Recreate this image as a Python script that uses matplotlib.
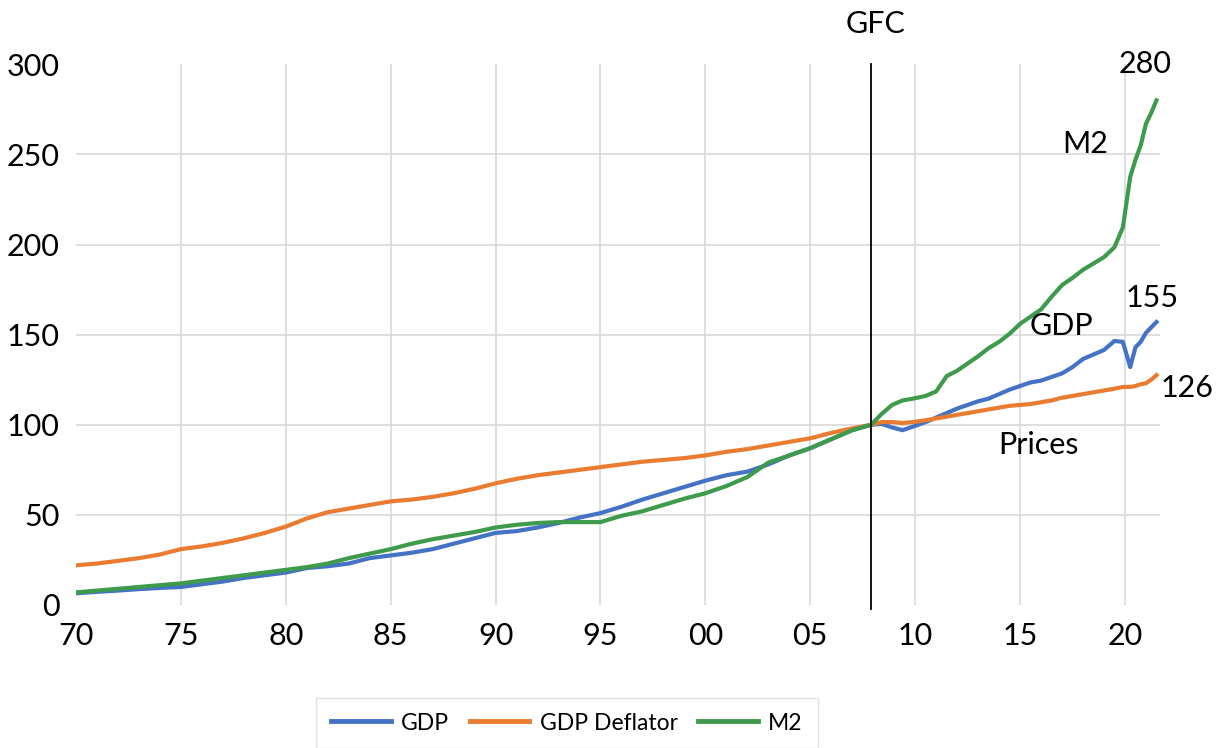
import matplotlib
matplotlib.use("Agg")
import matplotlib.pyplot as plt
import matplotlib.transforms as mtransforms

# ---- data ----
years = [1970, 1971, 1972, 1973, 1974, 1975, 1976, 1977, 1978, 1979,
         1980, 1981, 1982, 1983, 1984, 1985, 1986, 1987, 1988, 1989,
         1990, 1991, 1992, 1993, 1994, 1995, 1996, 1997, 1998, 1999,
         2000, 2001, 2002, 2003, 2004, 2005, 2006, 2007, 2007.9,
         2008.4, 2008.9, 2009.4, 2009.9, 2010.5, 2011.0, 2011.5, 2012.0,
         2012.5, 2013.0, 2013.5, 2014.0, 2014.5, 2015.0, 2015.5, 2016.0,
         2016.5, 2017.0, 2017.5, 2018.0, 2018.5, 2019.0, 2019.5, 2019.9,
         2020.25, 2020.5, 2020.75, 2021.0, 2021.25, 2021.5]

gdp = [6.5, 7.3, 8.0, 8.8, 9.5, 10.0, 11.5, 13.0, 15.0, 16.5,
       18.0, 20.5, 21.5, 23.0, 26.0, 27.5, 29.0, 31.0, 34.0, 37.0,
       40.0, 41.0, 43.0, 45.5, 48.5, 51.0, 54.5, 58.5, 62.0, 65.5,
       69.0, 72.0, 74.0, 78.0, 83.0, 87.0, 92.0, 97.0, 100.0,
       100.5, 98.5, 97.0, 99.0, 101.5, 104.0, 106.5, 109.0,
       111.0, 113.0, 114.5, 117.0, 119.5, 121.5, 123.5, 124.5,
       126.5, 128.5, 132.0, 136.5, 139.0, 141.5, 146.5, 146.0,
       132.0, 143.0, 146.0, 151.0, 154.0, 157.0]

deflator = [22.0, 23.0, 24.5, 26.0, 28.0, 31.0, 32.5, 34.5, 37.0, 40.0,
            43.5, 48.0, 51.5, 53.5, 55.5, 57.5, 58.5, 60.0, 62.0, 64.5,
            67.5, 70.0, 72.0, 73.5, 75.0, 76.5, 78.0, 79.5, 80.5, 81.5,
            83.0, 85.0, 86.5, 88.5, 90.5, 92.5, 95.5, 98.0, 100.0,
            101.5, 101.5, 101.0, 101.5, 102.5, 103.5, 104.5, 105.5,
            106.5, 107.5, 108.5, 109.5, 110.5, 111.0, 111.5, 112.5,
            113.5, 115.0, 116.0, 117.0, 118.0, 119.0, 120.0, 121.0,
            121.0, 121.5, 122.5, 123.0, 125.0, 127.5]

m2 = [7.0, 8.0, 9.0, 10.0, 11.0, 12.0, 13.5, 15.0, 16.5, 18.0,
      19.5, 21.0, 23.0, 26.0, 28.5, 31.0, 34.0, 36.5, 38.5, 40.5,
      43.0, 44.5, 45.5, 46.0, 46.0, 46.0, 49.5, 52.0, 55.5, 59.0,
      62.0, 66.0, 71.0, 79.0, 83.0, 87.0, 92.0, 97.0, 100.0,
      106.0, 111.0, 113.5, 114.5, 116.0, 118.5, 127.0, 130.0,
      134.0, 138.0, 142.5, 146.0, 150.5, 156.0, 160.0, 164.0,
      171.0, 177.5, 181.5, 186.0, 189.5, 193.0, 198.5, 209.5,
      237.5, 247.0, 255.0, 267.0, 273.0, 280.0]

series_names = ["GDP", "GDP Deflator", "M2"]
xtick_years = [1970, 1975, 1980, 1985, 1990, 1995, 2000, 2005, 2010, 2015, 2020]
xtick_labels = ["70", "75", "80", "85", "90", "95", "00", "05", "10", "15", "20"]
ytick_values = [0, 50, 100, 150, 200, 250, 300]
gfc_year = 2007.9

# ---- style ----
plt.rcParams['font.family'] = ['Lato', 'DejaVu Sans']
colors = ["#4472C4", "#E97C30", "#3E9B4C"]
grid_color = "#D9D9D9"

fig = plt.figure(figsize=(12.21, 7.48), dpi=100)
ax = fig.add_axes([76/1221, 1-605/748, (1160-76)/1221, (605-64.3)/748])

for vals, name, c in zip([gdp, deflator, m2], series_names, colors):
    ax.plot(years, vals, color=c, lw=3.0, label=name, solid_joinstyle='round', zorder=3)

ax.set_xlim(1970, 2021.67)
ax.set_ylim(0, 300)
ax.set_xticks(xtick_years)
ax.set_xticklabels(xtick_labels)
ax.set_yticks(ytick_values)
ax.tick_params(axis='both', length=0, labelsize=22, colors='black')
ax.tick_params(axis='x', pad=12)
ax.tick_params(axis='y', pad=12)
for s in ax.spines.values():
    s.set_visible(False)

ax.grid(True, color=grid_color, lw=1.2, zorder=0)
ax.set_axisbelow(True)
# hide gridlines at the plot edges (70 on x; 0 and 300 on y)
xgl = ax.get_xgridlines()
xgl[0].set_visible(False)
ygl = ax.get_ygridlines()
ygl[0].set_visible(False)
ygl[-1].set_visible(False)

# GFC line
ax.axvline(gfc_year, ymin=-0.008, ymax=1.0, color='black', lw=1.3, zorder=4, clip_on=False)
trans = mtransforms.blended_transform_factory(ax.transData, ax.transAxes)
ax.text(2008.1, 1.0745, "GFC", transform=trans, ha='center', va='center', fontsize=22)

# annotations
ax.text(2020.95, 300.4, "280", ha='center', va='center', fontsize=22, clip_on=False)
ax.text(2018.1, 256, "M2", ha='center', va='center', fontsize=22)
ax.text(2021.29, 170.2, "155", ha='center', va='center', fontsize=22, clip_on=False)
ax.text(2016.95, 154.6, "GDP", ha='center', va='center', fontsize=22)
ax.text(2022.95, 120.4, "126", ha='center', va='center', fontsize=22, clip_on=False)
ax.text(2015.9, 89, "Prices", ha='center', va='center', fontsize=22)

leg = fig.legend(loc='center', bbox_to_anchor=(567/1221, 1-723/748), ncol=3,
                 frameon=True, fancybox=False, fontsize=16.5, handlelength=2.6,
                 handletextpad=0.45, columnspacing=0.9, borderpad=0.65)
leg.get_frame().set_edgecolor(grid_color)
leg.get_frame().set_linewidth(1.0)
for line in leg.get_lines():
    line.set_linewidth(3.5)

fig.savefig("out.png", dpi=100)
